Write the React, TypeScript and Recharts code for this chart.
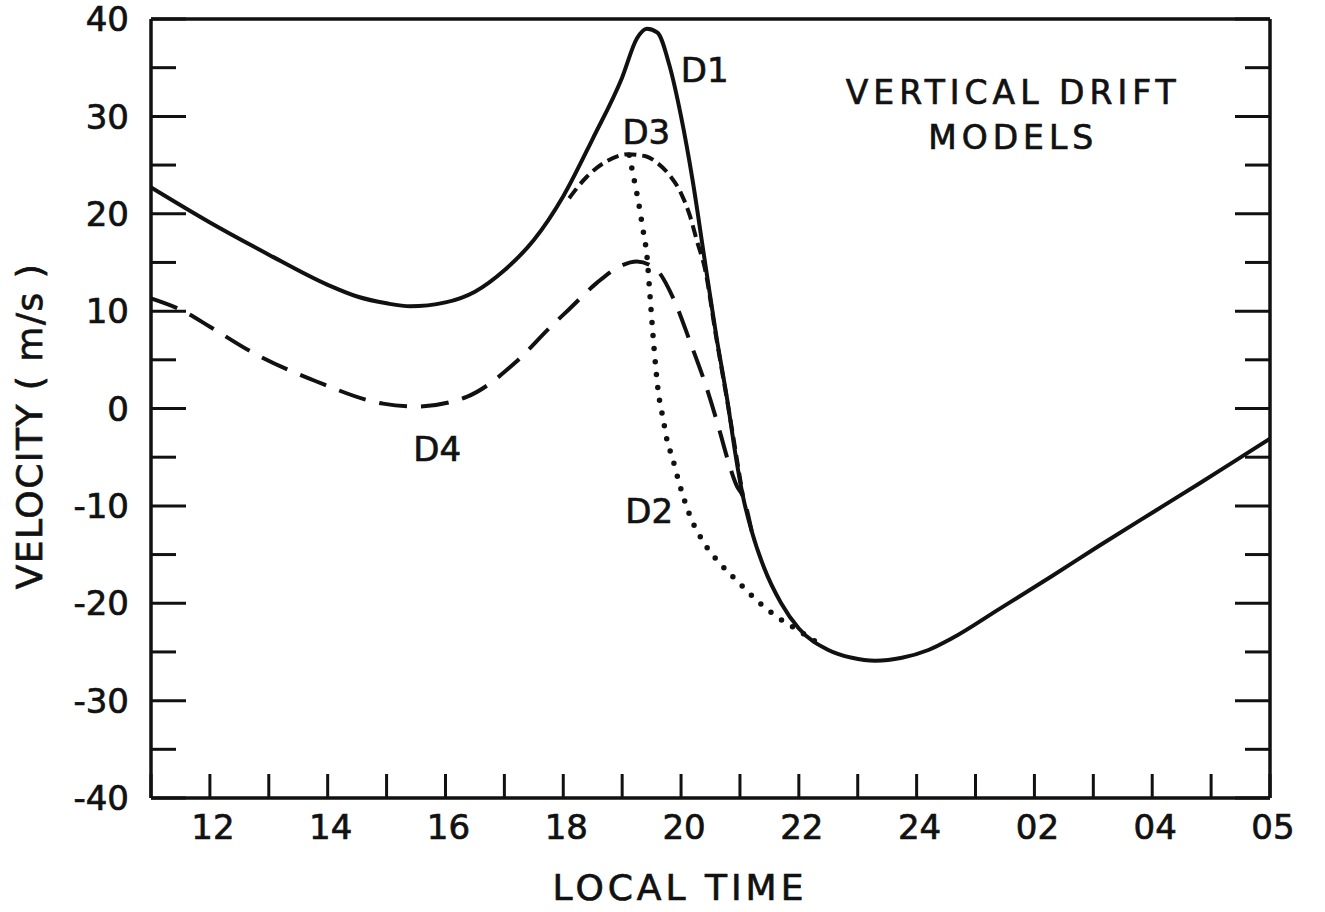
import React from 'react';
import { LineChart, Line, XAxis, YAxis, ReferenceDot } from 'recharts';

// hours run 11 .. 30 (30 = next-day 06, labelled "05" on the original plot)
const hourTicks = [11, 12, 13, 14, 15, 16, 17, 18, 19, 20, 21, 22, 23, 24, 25, 26, 27, 28, 29, 30];
const hourLabelAt = [12, 14, 16, 18, 20, 22, 24, 26, 28, 30];
const hourLabels = ['12', '14', '16', '18', '20', '22', '24', '02', '04', '05'];

const velocityTicks = [-40, -35, -30, -25, -20, -15, -10, -5, 0, 5, 10, 15, 20, 25, 30, 35, 40];
const velocityLabels = [-40, -30, -20, -10, 0, 10, 20, 30, 40];

// D1 - solid
const d1Hours = [11, 12, 13, 14, 14.5, 15, 15.4, 16, 16.5, 17, 17.5, 18, 18.5, 19, 19.25, 19.42, 19.6, 19.8, 20, 20.2, 20.4, 20.6, 20.8, 20.9, 21.05, 21.2, 21.4, 21.7, 22, 22.5, 22.9, 23.3, 23.75, 24.2, 24.6, 25.4, 26.3, 27.1, 28, 28.8, 29.4, 30];
const d1Vel = [22.7, 19.1, 15.8, 12.7, 11.5, 10.8, 10.5, 10.9, 12.0, 14.2, 17.3, 21.8, 27.7, 34.0, 38.0, 39.0, 38.6, 35.3, 30.0, 23.3, 15.3, 7.4, 0.3, -3.8, -9.0, -12.6, -16.2, -20.0, -22.6, -24.8, -25.6, -25.9, -25.6, -24.8, -23.6, -20.6, -17.2, -14.1, -10.7, -7.7, -5.4, -3.1];

// D3 - short dashes
const d3Hours = [18.1, 18.4, 18.74, 19.1, 19.4, 19.6, 19.8, 20.0, 20.15, 20.27, 20.4, 20.6, 20.8, 21.05];
const d3Vel = [21.6, 23.8, 25.4, 26.1, 25.9, 25.2, 24.0, 22.1, 19.8, 17.2, 14.5, 7.2, 0.2, -9.0];

// D2 - dotted
const d2Hours = [19.12, 19.2, 19.28, 19.35, 19.42, 19.48, 19.54, 19.61, 19.7, 19.76, 19.85, 19.98, 20.15, 20.4, 20.66, 21.0, 21.34, 21.68, 22.02, 22.3];
const d2Vel = [26.0, 23.6, 21.1, 18.5, 15.7, 11.0, 6.3, 1.9, -1.2, -3.2, -5.0, -7.9, -11.0, -13.9, -15.9, -18.0, -20.0, -21.6, -22.9, -24.0];

// D4 - long dashes
const d4Hours = [11, 11.55, 12, 12.68, 13.8, 14.94, 15.5, 16.36, 17.2, 17.77, 18.1, 18.57, 18.96, 19.25, 19.59, 19.87, 20.15, 20.44, 20.66, 20.78, 20.95, 21.05, 21.2];
const d4Vel = [11.3, 10.0, 8.4, 5.9, 2.8, 0.5, 0.2, 1.2, 4.8, 8.3, 10.2, 12.9, 14.6, 15.1, 14.2, 11.3, 6.9, 2.0, -2.4, -5.0, -8.0, -9.0, -12.6];

const INK = '#111';
const FONT = '"DejaVu Sans", Arial, sans-serif';

const toPoints = (hours: number[], vel: number[]) => hours.map((t, i) => ({ t, v: vel[i] }));

const textStyle = { fontFamily: FONT, fill: INK, stroke: INK, strokeWidth: 0.7 };

const BottomTick = ({ x, y, payload }: any) => {
  const i = hourLabelAt.indexOf(payload.value);
  return (
    <g>
      <line x1={x} x2={x} y1={y} y2={y - 24} stroke={INK} strokeWidth={3} />
      {i >= 0 && (
        <text x={x + 3} y={y + 29} dy="0.36em" textAnchor="middle" fontSize={34} {...textStyle}>
          {hourLabels[i]}
        </text>
      )}
    </g>
  );
};

const TopTick = ({ x, y }: any) => (
  <line x1={x} x2={x} y1={y} y2={y + 24} stroke={INK} strokeWidth={3} />
);

const LeftTick = ({ x, y, payload }: any) => {
  const major = velocityLabels.includes(payload.value);
  return (
    <g>
      <line x1={x} x2={x + (major ? 35 : 25)} y1={y} y2={y} stroke={INK} strokeWidth={3} />
      {major && (
        <text x={x - 22} y={y} dy="0.36em" textAnchor="end" fontSize={34} {...textStyle}>
          {payload.value}
        </text>
      )}
    </g>
  );
};

const RightTick = ({ x, y, payload }: any) => {
  const major = velocityLabels.includes(payload.value);
  return <line x1={x} x2={x - (major ? 35 : 25)} y1={y} y2={y} stroke={INK} strokeWidth={3} />;
};

const note = (text: string, size: number, spacing = 0) => (p: any) => (
  <text
    x={p.cx}
    y={p.cy}
    dy="0.36em"
    textAnchor="middle"
    fontSize={size}
    {...textStyle}
    style={{ letterSpacing: spacing }}
  >
    {text}
  </text>
);

const titleStyle: React.CSSProperties = {
  position: 'absolute',
  whiteSpace: 'nowrap',
  fontFamily: FONT,
  fontSize: 36,
  color: INK,
  WebkitTextStroke: '0.7px #111',
};

export default function App() {
  return (
    <div style={{ position: 'absolute', left: 0, top: 0, width: 1325, height: 912, background: '#fff' }}>
      <LineChart width={1325} height={912} margin={{ top: 18, right: 54, bottom: 0, left: 0 }}>
        <XAxis
          dataKey="t"
          type="number"
          domain={[11, 30]}
          ticks={hourTicks}
          interval={0}
          allowDataOverflow
          height={114}
          tickSize={0}
          tickMargin={0}
          tickLine={false}
          axisLine={{ stroke: INK, strokeWidth: 3.5 }}
          tick={<BottomTick />}
        />
        <XAxis
          xAxisId="top"
          orientation="top"
          type="number"
          domain={[11, 30]}
          ticks={hourTicks}
          interval={0}
          allowDataOverflow
          height={1}
          tickSize={0}
          tickMargin={0}
          tickLine={false}
          axisLine={{ stroke: INK, strokeWidth: 3.5 }}
          tick={<TopTick />}
        />
        <YAxis
          type="number"
          domain={[-40, 40]}
          ticks={velocityTicks}
          interval={0}
          allowDataOverflow
          width={151}
          tickSize={0}
          tickMargin={0}
          tickLine={false}
          axisLine={{ stroke: INK, strokeWidth: 3.5 }}
          tick={<LeftTick />}
        />
        <YAxis
          yAxisId="right"
          orientation="right"
          type="number"
          domain={[-40, 40]}
          ticks={velocityTicks}
          interval={0}
          allowDataOverflow
          width={1}
          tickSize={0}
          tickMargin={0}
          tickLine={false}
          axisLine={{ stroke: INK, strokeWidth: 3.5 }}
          tick={<RightTick />}
        />
        <Line
          data={toPoints(d4Hours, d4Vel)}
          dataKey="v"
          type="monotone"
          stroke={INK}
          strokeWidth={4}
          strokeDasharray="28 14"
          dot={false}
          activeDot={false}
          isAnimationActive={false}
        />
        <Line
          data={toPoints(d2Hours, d2Vel)}
          dataKey="v"
          type="monotone"
          stroke={INK}
          strokeWidth={5.5}
          strokeLinecap="round"
          strokeDasharray="0 13"
          dot={false}
          activeDot={false}
          isAnimationActive={false}
        />
        <Line
          data={toPoints(d3Hours, d3Vel)}
          dataKey="v"
          type="monotone"
          stroke={INK}
          strokeWidth={4}
          strokeDasharray="12 6"
          dot={false}
          activeDot={false}
          isAnimationActive={false}
        />
        <Line
          data={toPoints(d1Hours, d1Vel)}
          dataKey="v"
          type="monotone"
          stroke={INK}
          strokeWidth={4}
          dot={false}
          activeDot={false}
          isAnimationActive={false}
        />
        <ReferenceDot x={20.4} y={34.8} r={0} shape={note('D1', 34)} />
        <ReferenceDot x={19.41} y={28.4} r={0} shape={note('D3', 34)} />
        <ReferenceDot x={15.86} y={-4.1} r={0} shape={note('D4', 34)} />
        <ReferenceDot x={19.46} y={-10.5} r={0} shape={note('D2', 34)} />
        <ReferenceDot x={25.64} y={32.5} r={0} shape={note('VERTICAL DRIFT', 33, 5)} />
        <ReferenceDot x={25.64} y={27.9} r={0} shape={note('MODELS', 33, 5)} />
      </LineChart>
      <div style={{ ...titleStyle, left: 680, top: 887, letterSpacing: 4, transform: 'translate(-50%, -50%)' }}>
        LOCAL TIME
      </div>
      <div
        style={{
          ...titleStyle,
          left: 29,
          top: 426,
          letterSpacing: 1.5,
          transform: 'translate(-50%, -50%) rotate(-90deg)',
        }}
      >
        VELOCITY ( m/s )
      </div>
    </div>
  );
}
